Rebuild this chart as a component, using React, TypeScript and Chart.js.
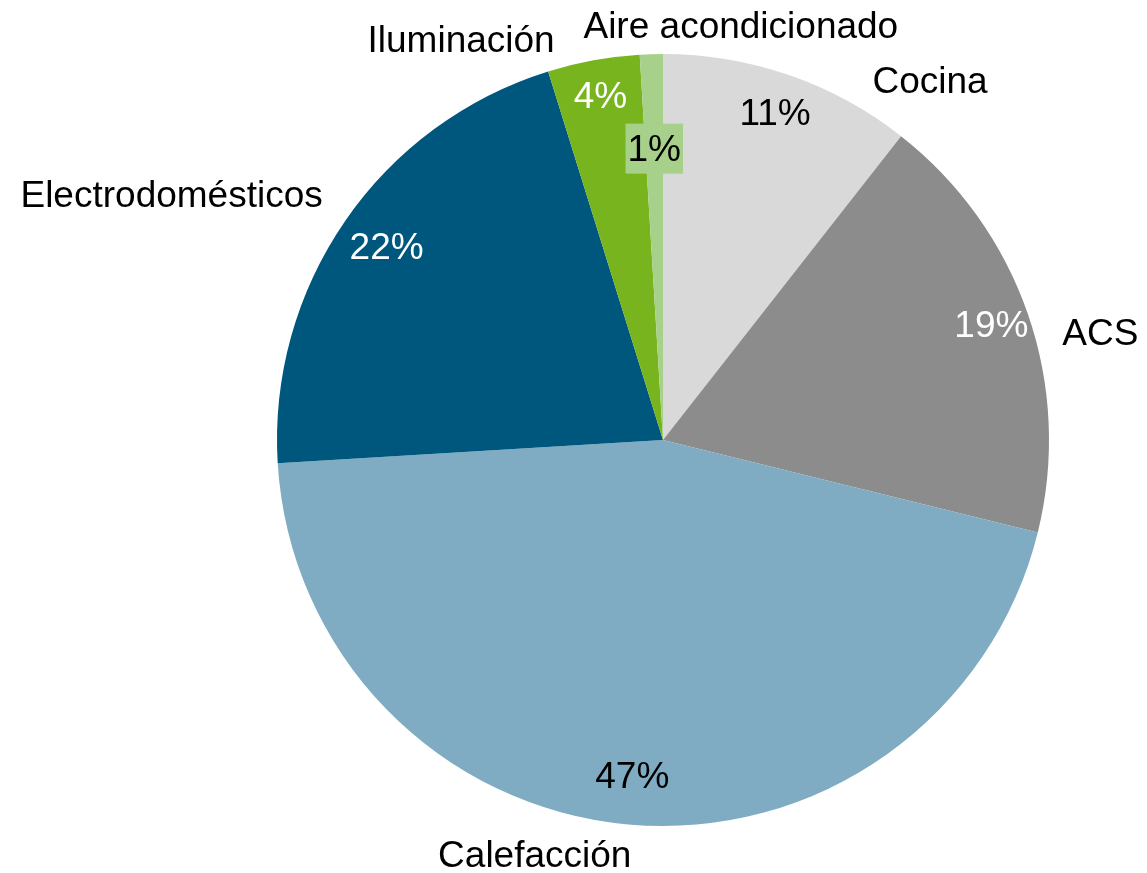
import React, { useEffect, useRef } from "react";
import { Chart, registerables } from "chart.js";

Chart.register(...registerables);

const categories = [
  "Cocina",
  "ACS",
  "Calefacción",
  "Electrodomésticos",
  "Iluminación",
  "Aire acondicionado",
];
const shares = [11, 19, 47, 22, 4, 1];
const sliceColors = ["#D9D9D9", "#8C8C8C", "#7FACC3", "#00577E", "#78B41E", "#A7D08B"];

// Styling / placement of the labels (not data)
const valueLabelStyle = [
  { color: "#000000", f: 0.89, box: null as string | null },
  { color: "#FFFFFF", f: 0.9, box: null as string | null },
  { color: "#000000", f: 0.88, box: null as string | null },
  { color: "#FFFFFF", f: 0.87, box: null as string | null },
  { color: "#FFFFFF", f: 0.9, box: null as string | null },
  { color: "#000000", f: 0.75, box: "#A7D08B" as string | null },
];
const categoryLabelPolar = [
  { deg: 36.8, f: 1.155 },
  { deg: 76.5, f: 1.165 },
  { deg: 197.1, f: 1.13 },
  { deg: 296.3, f: 1.42 },
  { deg: 333.1, f: 1.156 },
  { deg: 10.7, f: 1.086 },
];
const FONT = '37px "Liberation Sans", Arial, sans-serif';

const labelPlugin = {
  id: "pieLabels",
  afterDatasetsDraw(chart: any) {
    const ctx = chart.ctx as CanvasRenderingContext2D;
    const meta = chart.getDatasetMeta(0);
    const values = chart.data.datasets[0].data as number[];
    ctx.save();
    ctx.font = FONT;
    ctx.textAlign = "center";
    ctx.textBaseline = "middle";
    meta.data.forEach((arc: any, i: number) => {
      const p = arc.getProps(["x", "y", "startAngle", "endAngle", "outerRadius"], true);
      const mid = (p.startAngle + p.endAngle) / 2;
      const st = valueLabelStyle[i];
      const lx = p.x + Math.cos(mid) * p.outerRadius * st.f;
      const ly = p.y + Math.sin(mid) * p.outerRadius * st.f;
      const txt = Math.round(values[i]) + "%";
      if (st.box) {
        const w = ctx.measureText(txt).width + 4;
        const h = 50;
        ctx.fillStyle = st.box;
        ctx.fillRect(lx - w / 2, ly - h / 2 - 2, w, h);
      }
      ctx.fillStyle = st.color;
      ctx.fillText(txt, lx, ly);

      const cp = categoryLabelPolar[i];
      const a = (cp.deg * Math.PI) / 180;
      const cx = p.x + Math.sin(a) * p.outerRadius * cp.f;
      const cy = p.y - Math.cos(a) * p.outerRadius * cp.f;
      ctx.fillStyle = "#000000";
      ctx.fillText(chart.data.labels[i], cx, cy);
    });
    ctx.restore();
  },
};

export default function App() {
  const ref = useRef<HTMLCanvasElement | null>(null);
  useEffect(() => {
    if (!ref.current) return;
    const chart = new Chart(ref.current, {
      type: "pie",
      data: {
        labels: categories,
        datasets: [
          {
            data: shares,
            backgroundColor: sliceColors,
            borderWidth: 0,
          },
        ],
      },
      options: {
        responsive: false,
        animation: false,
        layout: { padding: { left: 277, right: 98, top: 54, bottom: 47 } },
        plugins: {
          legend: { display: false },
          tooltip: { enabled: false },
        },
      },
      plugins: [labelPlugin],
    });
    return () => chart.destroy();
  }, []);
  return (
    <div style={{ position: "absolute", left: 0, top: 0, width: 1147, height: 873, background: "#fff" }}>
      <canvas ref={ref} width={1147} height={873} style={{ display: "block" }} />
    </div>
  );
}
